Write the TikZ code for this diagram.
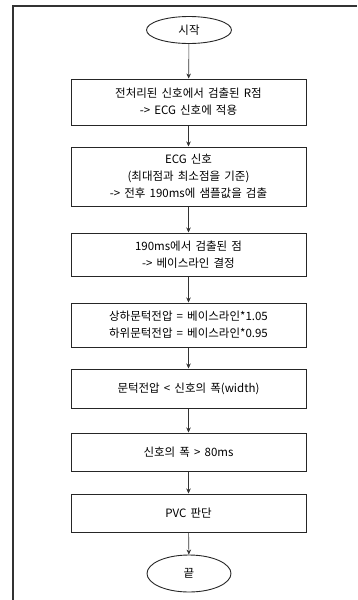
\documentclass[tikz,border=0pt]{standalone}
\usepackage{fontspec}
\setmainfont{Noto Sans CJK KR}[WordSpace=1.6]
\usetikzlibrary{shapes.geometric,arrows.meta}
\tikzset{
  stepbox/.style={draw=black!85, line width=1pt, rectangle, minimum width=235pt, align=center, inner sep=0pt, font=\fontsize{11.5}{17}\selectfont},
  term/.style={draw=black!85, line width=0.9pt, ellipse, inner sep=0pt, font=\fontsize{11.5}{17}\selectfont},
  flow/.style={draw=black!80, line width=0.6pt, -{Stealth[length=5pt,width=4.5pt]}},
  frame/.style={draw=black!80, line width=1.3pt}
}
\begin{document}
\begin{tikzpicture}[x=1pt,y=-1pt]
\useasboundingbox (0,0) rectangle (357,600);
\coordinate (fb) at (13,600);
\coordinate (fc) at (13,6);
\coordinate (fr) at (357,6);
\draw[frame] (fb) -- (fc) -- (fr);
\node[term, minimum width=85pt, minimum height=27pt] (start) at (189,30) {시작};
\node[stepbox, minimum height=46pt] (b1) at (188.5,102) {전처리된 신호에서 검출된 R점\\-> ECG 신호에 적용};
\node[stepbox, minimum height=59pt] (b2) at (188.5,176.5) {ECG 신호\\(최대점과 최소점을 기준)\\-> 전후 190ms에 샘플값을 검출};
\node[stepbox, minimum height=43pt] (b3) at (188.5,254.5) {190ms에서 검출된 점\\-> 베이스라인 결정};
\node[stepbox, minimum height=44pt] (b4) at (188.5,325) {상하문턱전압 = 베이스라인*1.05\\하위문턱전압 = 베이스라인*0.95};
\node[stepbox, minimum height=39pt] (b5) at (188.5,388.5) {문턱전압 < 신호의 폭(width)};
\node[stepbox, minimum height=38pt] (b6) at (188.5,452) {신호의 폭 > 80ms};
\node[stepbox, minimum height=38pt] (b7) at (188.5,513) {PVC 판단};
\node[term, minimum width=84pt, minimum height=37pt] (end) at (189,573.5) {끝};
\draw[flow] (start) -- (b1);
\draw[flow] (b1) -- (b2);
\draw[flow] (b2) -- (b3);
\draw[flow] (b3) -- (b4);
\draw[flow] (b4) -- (b5);
\draw[flow] (b5) -- (b6);
\draw[flow] (b6) -- (b7);
\draw[flow] (b7) -- (end);
\end{tikzpicture}
\end{document}
